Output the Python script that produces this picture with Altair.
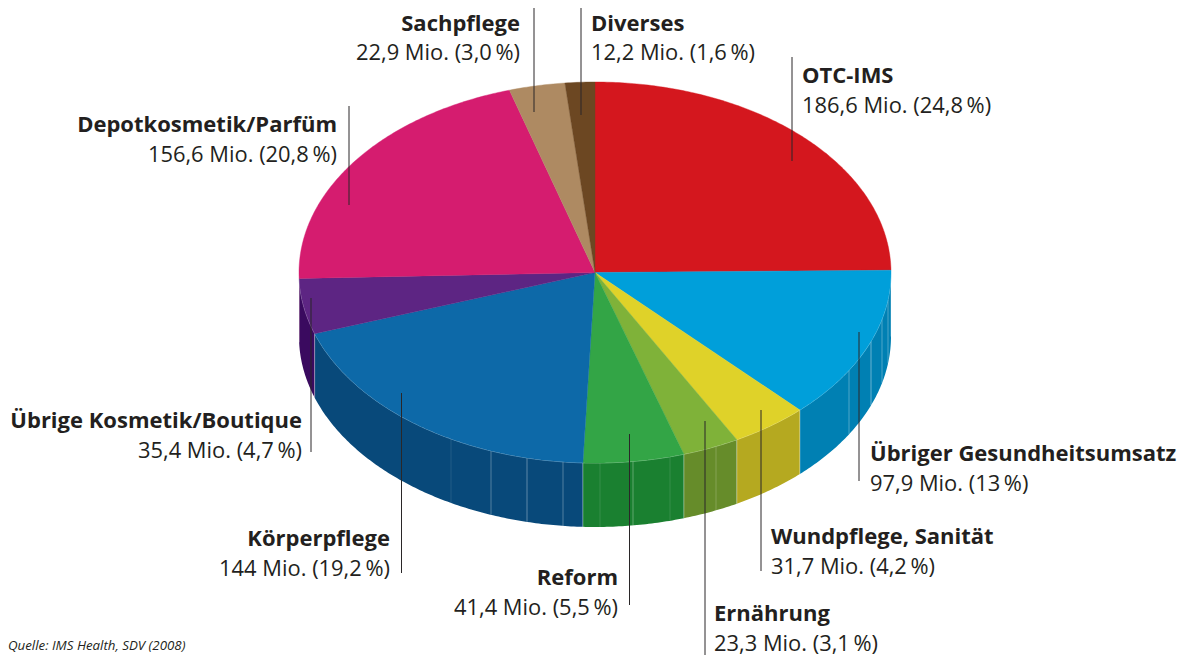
import math
import altair as alt

categories = ["OTC-IMS", "Übriger Gesundheitsumsatz", "Wundpflege, Sanität", "Ernährung", "Reform",
              "Körperpflege", "Übrige Kosmetik/Boutique", "Depotkosmetik/Parfüm", "Sachpflege", "Diverses"]
values = [186.6, 97.9, 31.7, 23.3, 41.4, 144.0, 35.4, 156.6, 22.9, 12.2]
value_labels = ["186,6 Mio. (24,8\u2009%)", "97,9 Mio. (13\u2009%)", "31,7 Mio. (4,2\u2009%)", "23,3 Mio. (3,1\u2009%)",
                "41,4 Mio. (5,5\u2009%)", "144 Mio. (19,2\u2009%)", "35,4 Mio. (4,7\u2009%)", "156,6 Mio. (20,8\u2009%)",
                "22,9 Mio. (3,0\u2009%)", "12,2 Mio. (1,6\u2009%)"]
top_colors = ["#D4171E", "#009FDA", "#DFD229", "#7FB239", "#33A546",
              "#0D69A8", "#5D2583", "#D51C6F", "#AE8A62", "#6C4722"]
wall_colors = ["#0080B3", "#0080B3", "#B5A920", "#668C2A", "#1A8030",
               "#08497A", "#3A0A5F", "#8E1050", "#8E1050", "#8E1050"]

# label layout: x, baseline of name, baseline of value, align
label_x = [802, 870, 771, 714, 618, 390, 302, 337, 520, 591]
label_y = [83, 461, 544, 620.5, 585, 546, 428, 132, 31, 31]
value_y = [113, 491, 574, 650.5, 615, 576, 458, 162, 60, 60]
label_align = ["left", "left", "left", "left", "right", "right", "right", "right", "right", "left"]
# leader lines: x, y top, y bottom
leader_x = [792, 859, 761, 705, 629.5, 401.5, 311, 349, 534, 581]
leader_y1 = [57, 332, 410, 421, 434, 393, 298, 106, 6, 6]
leader_y2 = [161, 481, 571, 660, 605, 573, 452, 205, 112, 115]
# pale seams on the side wall
seam_x = [849, 871, 882, 888, 451, 491, 527, 563, 600, 633, 716, 670]
seam_opacity = [.3, .4, .3, .3, .1, .3, .35, .3, .12, .3, .2, .12]
source_text = "Quelle: IMS Health, SDV (2008)"

CX, CY, RX, RY, DEPTH = 595.0, 272.5, 296.0, 190.5, 64.0
FONT = "Open Sans"
TEXT = "#231F20"


def pt(a, dy=0.0):
    return [CX + RX * math.sin(a), CY - RY * math.cos(a) + dy]


def feature(coords, fill, kind="Polygon"):
    geom = {"type": kind, "coordinates": [coords] if kind == "Polygon" else coords}
    return {"type": "Feature", "geometry": geom, "properties": {"fill": fill}}


def arc(a0, a1, dy=0.0):
    n = max(2, int(abs(a1 - a0) / 0.01))
    return [pt(a0 + (a1 - a0) * i / n, dy) for i in range(n + 1)]


total = sum(values)
tops, walls, edges = [], [], []
cum = 0.0
for v, c, w in zip(values, top_colors, wall_colors):
    a0 = cum / total * 2 * math.pi
    cum += v
    a1 = cum / total * 2 * math.pi
    tops.append(feature([[CX, CY]] + arc(a0, a1) + [[CX, CY]], c))
    b0, b1 = max(a0, math.pi / 2), min(a1, 3 * math.pi / 2)
    if b1 > b0:
        walls.append(feature(arc(b0, b1) + arc(b1, b0, DEPTH) + [pt(b0)], w))
        edges.append(feature(arc(b0, b1), "#FFFFFF", "LineString"))
        edges.append(feature([pt(b0), pt(b0, DEPTH)], "#FFFFFF", "LineString"))

projection = alt.Projection(type="identity", scale=1, translate=[-8, -8])

X = alt.Scale(domain=[8, 1179], range=[0, 1171], nice=False, zero=False)
Y = alt.Scale(domain=[8, 655], range=[0, 647], nice=False, zero=False)

wall_layer = alt.Chart(alt.Data(values=walls)).mark_geoshape(strokeWidth=0).encode(
    fill=alt.Fill("properties.fill:N", scale=None)
).project(**projection.to_dict())
edge_layer = alt.Chart(alt.Data(values=edges)).mark_geoshape(
    filled=False, stroke="#FFFFFF", strokeWidth=0.8, strokeOpacity=0.45
).project(**projection.to_dict())
top_layer = alt.Chart(alt.Data(values=tops)).mark_geoshape(strokeWidth=0.4).encode(
    fill=alt.Fill("properties.fill:N", scale=None),
    stroke=alt.Stroke("properties.fill:N", scale=None),
).project(**projection.to_dict())

seam_rows = []
for x, o in zip(seam_x, seam_opacity):
    t = CY + RY * math.sqrt(1 - ((x - CX) / RX) ** 2)
    seam_rows.append({"x": x, "y": t, "y2": t + DEPTH, "o": o})
seam_layer = alt.Chart(alt.Data(values=seam_rows)).mark_rule(color="#FFFFFF", strokeWidth=1).encode(
    x=alt.X("x:Q", scale=X, axis=None),
    y=alt.Y("y:Q", scale=Y, axis=None),
    y2="y2:Q",
    opacity=alt.Opacity("o:Q", scale=None),
)

leader_rows = [{"x": x, "y": a, "y2": b} for x, a, b in zip(leader_x, leader_y1, leader_y2)]
leader_layer = alt.Chart(alt.Data(values=leader_rows)).mark_rule(color="#2A2728", strokeWidth=1).encode(
    x=alt.X("x:Q", scale=X, axis=None),
    y=alt.Y("y:Q", scale=Y, axis=None),
    y2="y2:Q",
)


def text_layer(rows, **kw):
    return alt.Chart(alt.Data(values=rows)).mark_text(
        font=FONT, color=TEXT, baseline="alphabetic", **kw
    ).encode(
        x=alt.X("x:Q", scale=X, axis=None),
        y=alt.Y("y:Q", scale=Y, axis=None),
        text="t:N",
    )


layers = [wall_layer, seam_layer, edge_layer, top_layer, leader_layer]
for align in ("left", "right"):
    names = [{"x": x, "y": y, "t": t} for x, y, t, a in zip(label_x, label_y, categories, label_align) if a == align]
    vals = [{"x": x, "y": y, "t": t} for x, y, t, a in zip(label_x, value_y, value_labels, label_align) if a == align]
    layers.append(text_layer(names, align=align, fontSize=22, fontWeight="bold"))
    layers.append(text_layer(vals, align=align, fontSize=21.9))
layers.append(text_layer([{"x": 8, "y": 650, "t": source_text}], align="left", fontSize=13.3, fontStyle="italic"))

chart = alt.layer(*layers).properties(
    width=1171, height=647,
    autosize=alt.AutoSizeParams(type="none"),
    padding=0,
    background="#FFFFFF",
).configure_view(stroke=None)

chart.save("out.html", embed_options={"renderer": "svg", "actions": False})
